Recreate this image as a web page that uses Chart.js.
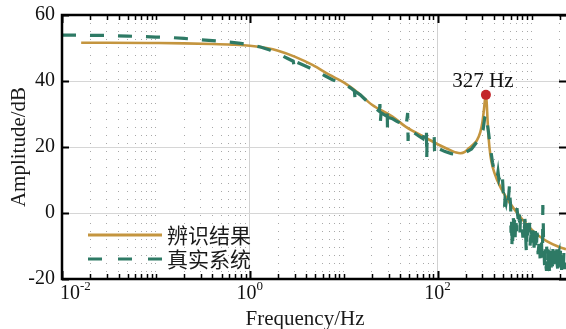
<!DOCTYPE html>
<html><head><meta charset="utf-8">
<script src="https://cdn.jsdelivr.net/npm/chart.js@4.4.1/dist/chart.umd.min.js"></script>
<style>html,body{margin:0;padding:0;background:#fff;}#wrap{width:566px;height:329px;}</style>
</head><body><div id="wrap"><canvas id="c" width="566" height="329"></canvas></div>
<script>
// ---- data ----
const seriesNames = ['辨识结果', '真实系统'];
const xTitle = 'Frequency/Hz';
const yTitle = 'Amplitude/dB';

const fitFreq = [0.016,0.03,0.1,0.2,0.4,0.7,1,1.5,2,3,
  4.7,7,10,14,20,33,46,76,104,140,
  158,175,195,215,240,262,285,300,312,320,
  327,333,340,350,365,385,435,530,690,880,
  1130,1450,1970,2330];
const fitAmp = [51.6,51.6,51.5,51.4,51.2,51.0,50.7,50.0,49.2,47.4,
  44.8,41.9,39.6,36.6,32.8,29.2,26.1,22.7,20.6,18.9,
  18.3,18.1,18.5,19.6,20.8,22.0,24.5,27.5,31.5,34.5,
  35.8,33.5,28.5,22.5,17.5,14.0,9.7,5.0,0.3,-3.3,
  -6.4,-8.5,-10.3,-11.0];

const measFreq = [0.01,0.015,0.02,0.03,0.05,0.07,0.1,0.14,0.2,0.3,
  0.45,0.6,0.8,1.0,1.3,1.6,2.0,2.5,2.9,3.0,
  3.1,3.6,4.3,5.2,6.3,7.6,9,10.5,12,13,
  13.3,13.6,15,17.5,20,22,24,24.3,24.6,25,
  28,29,29.3,29.6,33,36,39,42,46,48,
  48.5,49,55,64,70,76,76.6,77.2,85,92,
  92.8,93.6,105,120,140,160,180,200,230,262,
  290,305,318,327,335,350,365,385,400,415,
  430,440,450,460,475,490,500,510,516,522,
  535,550,565,583,590,600,612,618,625,640,
  659,670,685,700,715,730,745,760,783,800,
  820,843,860,875,885,895,910,930,952,975,
  1000,1025,1050,1077,1100,1130,1159,1190,1216,1250,
  1280,1300,1320,1330,1345,1370,1400,1430,1460,1490,
  1520,1550,1580,1610,1640,1670,1700,1740,1780,1820,
  1860,1900,1940,1990,2040,2090,2140,2190,2240,2300,
  1310,1390,1450,1530,1600,1690,1760,1850,1960,2070,
  2160,2260];
const measAmp = [53.9,53.9,53.8,53.8,53.6,53.5,53.3,53.2,52.9,52.5,
  52.1,51.8,51.4,51.0,50.3,49.5,48.3,46.9,46.0,43.6,
  45.8,45.0,44.0,42.8,41.6,40.4,39.5,38.8,37.8,37.0,
  33.6,36.6,35.8,34.0,32.5,31.6,30.8,33.0,27.8,30.4,
  29.5,32.0,25.2,29.0,28.6,27.9,27.4,26.6,25.9,30.3,
  21.8,25.5,24.5,23.2,22.5,26.0,16.4,21.8,21.0,23.0,
  18.4,20.4,19.4,18.6,18.0,17.8,17.9,18.4,19.4,21.5,
  23.0,25.2,29.0,30.0,28.0,24.0,19.8,15.2,13.0,11.5,
  10.6,12.5,10.2,11.0,9.2,10.8,6.4,4.8,1.8,4.2,
  3.0,5.5,3.5,8.5,4.8,2.0,-1.2,-10.3,-4.0,-1.5,
  -2.1,-7.3,-3.0,1.5,-1.0,-4.2,-0.5,-2.5,-1.2,-5.2,
  -2.8,-4.5,-3.2,-10.3,-12.1,-5.5,-3.0,-6.0,-3.0,-8.2,
  -5.0,-6.5,-4.5,-8.0,-5.5,-9.7,-7.0,-10.5,-7.3,-12.1,
  -9.0,-11.5,2.4,0.0,-10.3,-14.0,-11.0,-16.5,-12.0,-15.5,
  -10.5,-17.0,-12.5,-14.8,-11.0,-16.0,-12.0,-17.5,-13.0,-15.5,
  -10.8,-16.8,-12.2,-14.5,-11.0,-17.8,-13.0,-16.0,-11.5,-15.0,
  -13.5,-17.2,-10.2,-13.8,-16.2,-10.5,-14.2,-17.0,-11.8,-14.0,
  -18.0,-12.5];
// further noisy samples of the measured response above 600 Hz
const measFreqHF = [605,630,648,678,692,722,752,790,810,850,905,940,965,990,
  1012,1038,1064,1090,1115,1145,1175,1205,1235,1265,1290,
  1355,1380,1415,1445,1475,1505,1540,1565,1595,1625,
  1655,1685,1720,1750,1800,1840,1880,1920,1975,2020,
  2060,2110,2170,2210,2280];
const measAmpHF = [-6.0,-8.5,-3.5,-1.0,-5.5,-2.0,-6.5,-3.5,-7.5,-1.8,-8.8,-4.0,-10.0,-6.5,
  -9.0,-4.0,-10.5,-7.0,-11.5,-6.0,-12.5,-9.5,-14.0,-10.0,-15.0,
  -12.5,-16.5,-13.0,-17.5,-11.0,-16.0,-13.5,-18.0,-11.5,-16.5,
  -13.0,-17.8,-10.5,-15.0,-17.0,-12.5,-15.8,-11.0,-17.5,-13.5,
  -16.5,-10.8,-15.2,-12.0,-17.0];

const peakFreq = [327];
const peakAmp = [35.8];
const peakLabel = ['327 Hz'];

const yTicks = [-20, 0, 20, 40, 60];
const xMajorTicks = [0.01, 1, 100];
const xTickBase = ['10', '10', '10'];
const xTickExp = ['-2', '0', '2'];
const xMin = 0.01, xMax = 2330;

// ---- styles ----
const GOLD = '#C4953F', TEAL = '#2E7A65', RED = '#C3262B';
const SERIF = "'Liberation Serif', 'Times New Roman', serif";
const CJK = "'Noto Sans CJK SC', sans-serif";

function majorIndex(v) {
  for (let i = 0; i < xMajorTicks.length; i++) {
    if (Math.abs(Math.log10(v) - Math.log10(xMajorTicks[i])) < 1e-6) return i;
  }
  return -1;
}
const xTickValues = [];
for (let k = -2; k <= 3; k++) {
  for (let m = 1; m <= 9; m++) {
    const v = m * Math.pow(10, k);
    if (v >= xMin * 0.999 && v <= xMax) xTickValues.push(v);
  }
}
const allMeasFreq = measFreq.concat(measFreqHF);
const allMeasAmp = measAmp.concat(measAmpHF);
const measOrder = allMeasFreq.map((f, i) => i).sort((a, b) => allMeasFreq[a] - allMeasFreq[b]);

const overlay = {
  id: 'overlay',
  afterDraw(chart) {
    const c = chart.ctx, a = chart.chartArea, xs = chart.scales.x, ys = chart.scales.y;
    c.save();
    c.strokeStyle = '#000';
    // inward ticks
    xs.ticks.forEach(t => {
      const maj = majorIndex(t.value) >= 0;
      const px = Math.round(xs.getPixelForValue(t.value)) + 0.5;
      const len = maj ? 8 : 5;
      c.lineWidth = maj ? 2 : 1.5;
      c.beginPath();
      c.moveTo(px, a.bottom); c.lineTo(px, a.bottom - len);
      c.moveTo(px, a.top); c.lineTo(px, a.top + len);
      c.stroke();
    });
    c.lineWidth = 2;
    yTicks.forEach(v => {
      const py = Math.round(ys.getPixelForValue(v)) + 0.5;
      c.beginPath();
      c.moveTo(a.left, py); c.lineTo(a.left + 7, py);
      c.moveTo(a.right, py); c.lineTo(a.right - 7, py);
      c.stroke();
    });
    // frame (right side lies beyond the picture)
    c.lineWidth = 2.5;
    c.beginPath();
    c.moveTo(a.right + 3, a.top); c.lineTo(a.left, a.top);
    c.lineTo(a.left, a.bottom); c.lineTo(a.right + 3, a.bottom);
    c.stroke();

    // x tick labels with superscript exponents
    c.fillStyle = '#111';
    c.textBaseline = 'alphabetic';
    c.textAlign = 'left';
    xMajorTicks.forEach((v, i) => {
      const px = xs.getPixelForValue(v);
      c.font = '20px ' + SERIF;
      const wb = c.measureText(xTickBase[i]).width;
      c.font = '13px ' + SERIF;
      const we = c.measureText(xTickExp[i]).width;
      let x0 = px - (wb + we) / 2;
      if (x0 < a.left - 2) x0 = a.left - 2;
      c.font = '20px ' + SERIF;
      c.fillText(xTickBase[i], x0, a.bottom + 20);
      c.font = '13px ' + SERIF;
      c.fillText(xTickExp[i], x0 + wb, a.bottom + 11);
    });

    // peak label
    const px = xs.getPixelForValue(peakFreq[0]);
    const py = ys.getPixelForValue(peakAmp[0]);
    c.font = '21px ' + SERIF;
    c.textAlign = 'center';
    c.fillText(peakLabel[0], px - 3, py - 8);

    // legend
    const lx = a.left + 26, lw = 74, tx = a.left + 105;
    const r1 = a.bottom - 44, r2 = a.bottom - 20;
    c.lineCap = 'butt';
    c.strokeStyle = GOLD; c.lineWidth = 3; c.setLineDash([]);
    c.beginPath(); c.moveTo(lx, r1); c.lineTo(lx + lw, r1); c.stroke();
    c.strokeStyle = TEAL; c.lineWidth = 3.2; c.setLineDash([14, 16]);
    c.beginPath(); c.moveTo(lx, r2); c.lineTo(lx + lw, r2); c.stroke();
    c.setLineDash([]);
    c.fillStyle = '#1a1a1a';
    c.font = '21px ' + CJK;
    c.textAlign = 'left';
    c.textBaseline = 'middle';
    c.fillText(seriesNames[0], tx, r1);
    c.fillText(seriesNames[1], tx, r2);

    // axis titles
    c.font = '21px ' + SERIF;
    c.textAlign = 'center';
    c.textBaseline = 'alphabetic';
    c.fillText(xTitle, 305, 325);
    c.save();
    c.translate(25, (a.top + a.bottom) / 2);
    c.rotate(-Math.PI / 2);
    c.fillText(yTitle, 0, 0);
    c.restore();
    c.restore();
  }
};

const ctx = document.getElementById('c').getContext('2d');
new Chart(ctx, {
  type: 'line',
  data: {
    datasets: [
      {
        label: seriesNames[0],
        data: fitFreq.map((f, i) => ({ x: f, y: fitAmp[i] })),
        borderColor: GOLD, borderWidth: 2.6, pointRadius: 0,
        cubicInterpolationMode: 'monotone', fill: false, order: 2
      },
      {
        label: seriesNames[1],
        data: measOrder.map(i => ({ x: allMeasFreq[i], y: allMeasAmp[i] })),
        borderColor: TEAL, borderWidth: 3.2, borderDash: [14, 14], pointRadius: 0,
        tension: 0, fill: false, order: 1
      },
      {
        label: 'peak',
        data: peakFreq.map((f, i) => ({ x: f, y: peakAmp[i] })),
        showLine: false, pointRadius: 5, pointBackgroundColor: RED,
        pointBorderColor: RED, pointBorderWidth: 0, order: 0
      }
    ]
  },
  options: {
    responsive: false, animation: false, devicePixelRatio: 1,
    layout: { autoPadding: false, padding: { top: 15, left: 0, right: 0, bottom: 0 } },
    plugins: { legend: { display: false }, tooltip: { enabled: false } },
    scales: {
      x: {
        type: 'logarithmic', min: xMin, max: xMax,
        afterFit(s) { s.height = 50; s.paddingRight = 0; s.paddingLeft = 0; },
        afterBuildTicks(s) { s.ticks = xTickValues.map(v => ({ value: v, major: majorIndex(v) >= 0 })); },
        ticks: { display: false, autoSkip: false, maxRotation: 0, minRotation: 0 },
        grid: {
          drawTicks: false, lineWidth: 1,
          color: c => (c.tick && majorIndex(c.tick.value) >= 0) ? '#d2d2d2' : '#a8a8a8'
        },
        border: {
          display: false,
          dash: c => (c.tick && majorIndex(c.tick.value) < 0) ? [1, 7] : []
        }
      },
      y: {
        min: -20, max: 60,
        afterFit(s) { s.width = 62; s.paddingTop = 0; s.paddingBottom = 0; },
        afterBuildTicks(s) { s.ticks = yTicks.map(v => ({ value: v })); },
        ticks: { padding: 7, color: '#111', font: { family: SERIF, size: 20 } },
        grid: { drawTicks: false, lineWidth: 1, color: '#d6d6d6' },
        border: { display: false }
      }
    }
  },
  plugins: [overlay]
});
</script>
</body></html>
